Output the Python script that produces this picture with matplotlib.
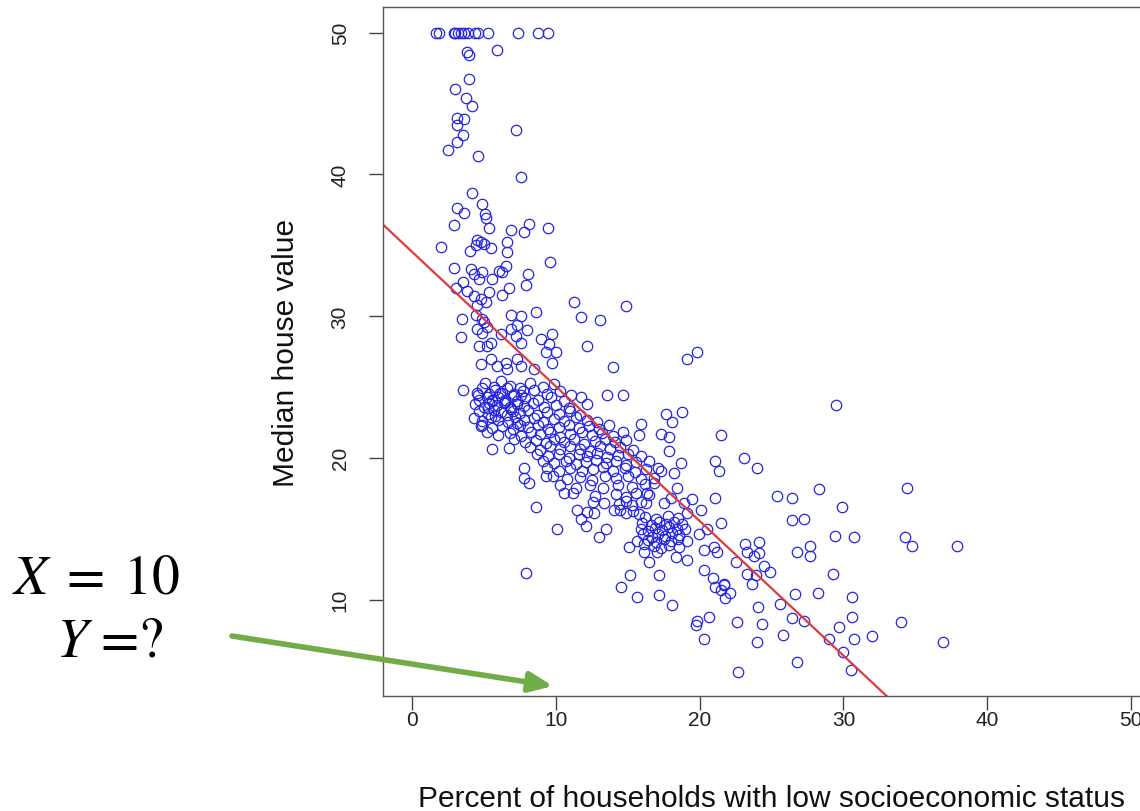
import numpy as np
import matplotlib.pyplot as plt
plt.switch_backend('Agg')

plt.rcParams['font.family'] = ['Liberation Sans', 'DejaVu Sans']
plt.rcParams['mathtext.fontset'] = 'stix'

# scattered points (lstat %, median value)
sparse_x = [1.7, 1.9, 2.9, 3.0, 3.2, 3.4, 3.6, 3.9, 4.4, 4.6, 5.3, 7.4, 8.8, 9.5,
            5.95, 3.87, 3.98, 3.98, 3.0, 3.8, 4.2, 3.13, 3.63, 3.17, 3.59, 3.13, 2.52, 4.63, 7.27,
            7.57, 4.21, 4.86, 3.17, 3.63, 5.09, 5.19, 2.9, 5.37, 6.92, 8.15, 7.8, 9.47, 2.01,
            4.56, 4.79, 4.44, 5.02, 5.49, 4.05, 6.6, 6.65, 9.6, 2.94, 4.1, 4.33, 4.91, 6.06,
            6.53, 6.3, 5.6, 4.67, 8.08, 3.59, 3.06, 3.87, 4.33, 4.79, 5.14, 4.56, 5.37, 6.76,
            6.3, 7.92, 11.27, 6.88, 7.57, 8.6, 11.74, 13.1, 3.52, 4.44, 4.91, 14.86,
            4.56, 4.91, 5.26, 5.02, 6.18, 6.88, 7.22, 7.57, 8.03, 7.34, 3.4, 4.67, 5.26, 5.49,
            8.96, 9.77, 9.53, 9.3, 10.0, 9.77, 4.79, 5.49, 5.95, 6.53, 6.65, 7.57, 8.49, 7.34, 3.59,
            5.6, 6.76, 7.8, 7.8, 8.15, 9.3, 10.58, 8.61, 10.12,
            12.15, 19.14, 19.79, 14.0, 13.59, 14.7, 11.04, 11.74, 12.2,
            17.64, 18.8, 18.1, 17.29, 17.87, 17.87, 15.9, 15.8, 21.46, 21.1, 21.34, 21.1,
            18.68, 18.2, 17.29, 18.45, 16.83, 18.0, 17.5, 16.37, 16.25, 19.5, 20.07, 18.9, 19.14,
            11.5, 12.2, 12.66, 11.74, 14.05, 13.35,
            12.08, 13.0, 13.47, 15.1, 15.67, 14.51, 15.2, 15.67, 17.17, 17.17, 18.06, 16.13,
            16.48, 17.06, 16.13, 19.14, 18.33, 20.3, 20.9, 21.1, 21.7, 22.15, 21.8, 19.84,
            19.72, 20.65, 20.3, 19.95, 20.53, 20.3, 21.0, 21.23, 22.5, 21.46, 22.6, 22.7,
            29.5, 23.1, 23.96, 25.4, 26.4, 28.3, 29.9, 26.4, 27.25,
            29.44, 30.76, 26.8, 27.7, 27.66, 23.19, 24.1, 23.3, 23.8, 24.1, 24.47, 24.93,
            23.3, 23.66, 23.9, 21.7, 21.46, 29.3, 26.6, 28.2, 30.6, 25.6, 24.05, 26.4, 27.25,
            30.6, 29.7, 24.35, 25.8, 28.98, 30.76, 32.0, 23.96, 29.98, 26.74, 30.5,
            34.4, 34.3, 34.77, 37.9, 34.0, 36.9, 7.92]
sparse_y = [50, 50, 50, 50, 50, 50, 50, 50, 50, 50, 50, 50, 50, 50,
            48.8, 48.6, 48.4, 46.7, 46.0, 45.4, 44.8, 44.0, 43.9, 43.5, 42.8, 42.3, 41.7, 41.3, 43.1,
            39.8, 38.7, 37.9, 37.6, 37.3, 37.2, 36.9, 36.4, 36.2, 36.1, 36.5, 35.9, 36.2, 34.9,
            35.4, 35.2, 35.0, 35.1, 34.8, 34.6, 35.2, 34.5, 33.8, 33.4, 33.3, 33.0, 33.1, 33.2,
            33.5, 33.1, 32.6, 32.6, 33.0, 32.4, 32.0, 31.8, 31.4, 31.2, 31.0, 30.8, 31.7, 32.0,
            31.5, 32.2, 31.0, 30.1, 30.0, 30.3, 29.9, 29.7, 29.8, 30.1, 29.8, 30.7,
            29.1, 28.8, 29.2, 29.6, 28.7, 29.1, 28.6, 28.1, 29.0, 29.4, 28.5, 27.9, 27.9, 28.1,
            28.4, 28.7, 28.0, 27.5, 27.5, 26.7, 26.6, 27.0, 26.5, 26.7, 26.3, 26.5, 26.3, 27.0, 24.8,
            20.6, 20.7, 19.3, 18.6, 18.2, 18.7, 17.5, 16.5, 15.0,
            27.9, 27.0, 27.5, 26.4, 24.4, 24.4, 24.4, 24.3, 23.8,
            23.1, 23.2, 22.5, 21.7, 21.5, 20.5, 22.4, 21.6, 21.6, 19.8, 19.1, 17.2,
            19.6, 18.9, 19.1, 17.9, 18.2, 17.2, 16.8, 17.5, 16.8, 17.1, 16.3, 16.8, 16.1,
            16.3, 16.2, 16.1, 15.7, 16.3, 16.8,
            15.2, 14.4, 15.0, 13.7, 14.1, 10.9, 11.7, 10.2, 11.7, 10.35, 9.6, 13.35,
            12.65, 13.35, 13.9, 12.8, 13.0, 12.1, 11.5, 10.9, 11.0, 10.5, 10.1, 8.5,
            8.2, 8.8, 7.2, 14.65, 15.0, 13.5, 13.7, 13.35, 12.65, 15.4, 8.4, 4.9,
            23.7, 20.0, 19.3, 17.3, 17.2, 17.8, 16.5, 15.6, 15.7,
            14.5, 14.4, 13.35, 13.75, 13.1, 13.9, 14.06, 13.35, 13.1, 13.3, 12.4, 11.95,
            11.8, 11.1, 11.7, 11.1, 10.65, 11.8, 10.4, 10.5, 10.2, 9.7, 9.5, 8.7, 8.5,
            8.8, 8.1, 8.3, 7.5, 7.2, 7.2, 7.4, 7.0, 6.3, 5.6, 5.0,
            17.9, 14.4, 13.8, 13.8, 8.4, 7.0, 11.9]

# dense band, estimated row by row
band_x = [
    [5.1, 5.7, 6.2, 6.8, 7.5, 8.2, 9.1, 9.9],
    [4.5, 4.9, 5.4, 5.8, 6.3, 6.6, 7.1, 7.7, 8.5, 9.4, 10.3],
    [4.7, 5.2, 5.6, 6.0, 6.5, 7.0, 7.3, 7.9, 8.8, 9.7, 10.6],
    [4.4, 5.0, 5.4, 5.9, 6.4, 6.8, 7.3, 7.8, 8.4, 9.2, 10.0, 10.9],
    [4.7, 5.3, 5.7, 6.2, 6.6, 7.0, 7.5, 8.1, 8.7, 9.4, 10.2, 11.0, 11.7],
    [4.3, 4.9, 5.5, 6.0, 6.7, 7.2, 7.8, 8.5, 9.1, 9.9, 10.6, 11.4, 12.2, 12.9],
    [4.9, 5.6, 6.3, 7.0, 7.5, 8.1, 8.8, 9.5, 10.2, 10.9, 11.6, 12.3, 13.0, 13.7],
    [5.2, 6.0, 6.8, 7.6, 8.3, 8.9, 9.6, 10.3, 11.0, 11.8, 12.5, 13.2, 14.0, 14.7],
    [7.1, 7.9, 8.6, 9.3, 9.9, 10.6, 11.3, 12.0, 12.7, 13.4, 14.1, 14.9],
    [8.2, 8.9, 9.6, 10.3, 11.0, 11.7, 12.4, 13.1, 13.8, 14.5, 15.4],
    [8.7, 9.5, 10.2, 10.9, 11.6, 12.2, 12.9, 13.6, 14.3, 15.0, 15.9],
    [9.1, 9.9, 10.7, 11.4, 12.1, 12.8, 13.5, 14.2, 14.9, 15.6, 16.5],
    [9.4, 10.2, 11.0, 11.8, 12.6, 13.3, 14.0, 14.8, 15.5, 16.3, 17.1],
    [9.8, 10.8, 11.7, 12.5, 13.4, 14.2, 15.0, 15.9, 16.8],
    [10.3, 11.4, 12.4, 13.3, 14.3, 15.3, 16.2],
    [11.2, 12.7, 14.2, 14.9, 15.6, 16.5],
    [12.6, 14.4, 14.9, 15.3, 15.9],
    [14.5, 14.9, 15.4, 15.8],
    [4.6, 5.3, 6.1, 6.9, 7.6, 5.8, 6.5, 7.3, 4.8, 5.6],
]
band_y = [
    [25.3, 25.0, 25.4, 25.1, 24.9, 25.3, 25.0, 25.2],
    [24.6, 24.9, 24.5, 24.8, 24.6, 24.9, 24.5, 24.7, 24.8, 24.5, 24.7],
    [24.1, 24.3, 24.0, 24.3, 24.1, 24.35, 24.0, 24.2, 24.1, 24.3, 24.0],
    [23.8, 23.6, 23.9, 23.7, 23.85, 23.55, 23.8, 23.65, 23.9, 23.6, 23.75, 23.5],
    [23.3, 23.1, 23.35, 23.2, 23.0, 23.3, 23.15, 23.35, 23.05, 23.25, 23.1, 23.3, 23.0],
    [22.8, 22.6, 22.85, 22.7, 22.55, 22.9, 22.65, 22.8, 22.5, 22.75, 22.6, 22.85, 22.7, 22.55],
    [22.3, 22.1, 22.25, 22.05, 22.35, 22.15, 22.3, 22.0, 22.2, 22.35, 22.1, 22.25, 22.0, 22.3],
    [21.8, 21.6, 21.75, 21.55, 21.85, 21.65, 21.8, 21.5, 21.7, 21.85, 21.6, 21.75, 21.55, 21.8],
    [21.3, 21.1, 21.25, 21.05, 21.35, 21.15, 21.3, 21.0, 21.2, 21.35, 21.1, 21.25],
    [20.75, 20.55, 20.8, 20.6, 20.85, 20.65, 20.5, 20.8, 20.6, 20.75, 20.55],
    [20.3, 20.1, 20.25, 20.0, 20.3, 20.15, 20.35, 20.05, 20.2, 20.3, 20.1],
    [19.75, 19.6, 19.8, 19.55, 19.7, 19.85, 19.6, 19.75, 19.5, 19.7, 19.8],
    [19.25, 19.1, 19.3, 19.05, 19.2, 19.35, 19.1, 19.25, 19.0, 19.2, 19.3],
    [18.7, 18.5, 18.65, 18.45, 18.7, 18.55, 18.75, 18.5, 18.6],
    [18.1, 17.9, 18.05, 17.85, 18.1, 17.95, 18.15],
    [17.5, 17.3, 17.45, 17.25, 17.5, 17.35],
    [16.9, 16.75, 16.95, 16.7, 16.85],
    [16.3, 16.1, 16.25, 16.05],
    [24.4, 23.5, 24.55, 23.45, 24.45, 22.95, 23.95, 22.45, 22.25, 24.05],
]
# second, smaller clump
clump_x = [
    [16.2, 17.0, 17.8, 18.5],
    [16.0, 16.6, 17.2, 17.7, 18.2, 18.8],
    [15.9, 16.4, 16.9, 17.4, 17.9, 18.4, 19.0],
    [16.1, 16.7, 17.1, 17.6, 18.1, 18.6],
    [16.4, 17.0, 17.5, 18.0, 18.5, 19.1],
    [16.8, 17.3, 17.9, 18.6],
]
clump_y = [
    [15.85, 15.7, 15.9, 15.75],
    [15.4, 15.25, 15.45, 15.3, 15.5, 15.35],
    [15.0, 14.85, 15.05, 14.9, 15.1, 14.95, 15.0],
    [14.6, 14.45, 14.65, 14.5, 14.7, 14.55],
    [14.2, 14.05, 14.25, 14.1, 14.3, 14.15],
    [13.8, 13.65, 13.85, 13.7],
]

# fitted line
fit_intercept = 34.55
fit_slope = -0.95

xs = list(sparse_x)
ys = list(sparse_y)
for rx, ry in zip(band_x + clump_x, band_y + clump_y):
    xs += rx
    ys += ry

fig = plt.figure(figsize=(11.4, 8.12), dpi=100)
ax = fig.add_axes([383 / 1140, 1 - 697 / 812, 777 / 1140, 689 / 812])

ax.plot(xs, ys, 'o', mfc='none', mec='#2525e0', ms=7.5, mew=0.9)
ax.axline((0, fit_intercept), slope=fit_slope, color='#e03a3a', lw=1.6)

ax.set_xlim(-2, 52)
ax.set_ylim(3.2, 51.8)
ax.set_xticks([0, 10, 20, 30, 40, 50])
ax.set_yticks([10, 20, 30, 40, 50])
ax.tick_params(axis='both', direction='out', length=10, width=1, color='#444444',
               labelsize=15, labelcolor='#222222')
ax.tick_params(axis='x', pad=0)
ax.tick_params(axis='y', pad=14, labelrotation=90)
for lab in ax.get_yticklabels():
    lab.set_va('center')
for s in ax.spines.values():
    s.set_color('#555555')
    s.set_linewidth(1)

ax.set_xlabel('Percent of households with low socioeconomic status', fontsize=21.5,
              color='#111111', labelpad=40)
ax.set_ylabel('Median house value', fontsize=21.5, color='#111111', labelpad=22)

fig.text(96 / 1140, 1 - 580 / 812, r'$X\;=\;10$', fontsize=40, ha='center', va='center')
fig.text(110 / 1140, 1 - 643 / 812, r'$Y$ =?', fontsize=40, ha='center', va='center',
         family='STIXGeneral')

ax.annotate('', xy=(553 / 1140, 1 - 687 / 812), xytext=(232 / 1140, 1 - 637 / 812),
            xycoords='figure fraction', textcoords='figure fraction',
            arrowprops=dict(arrowstyle='-|>,head_length=1.4,head_width=0.6',
                            color='#70ad47', lw=4, shrinkA=0, shrinkB=0),
            annotation_clip=False)

fig.savefig('out.png', dpi=100)
